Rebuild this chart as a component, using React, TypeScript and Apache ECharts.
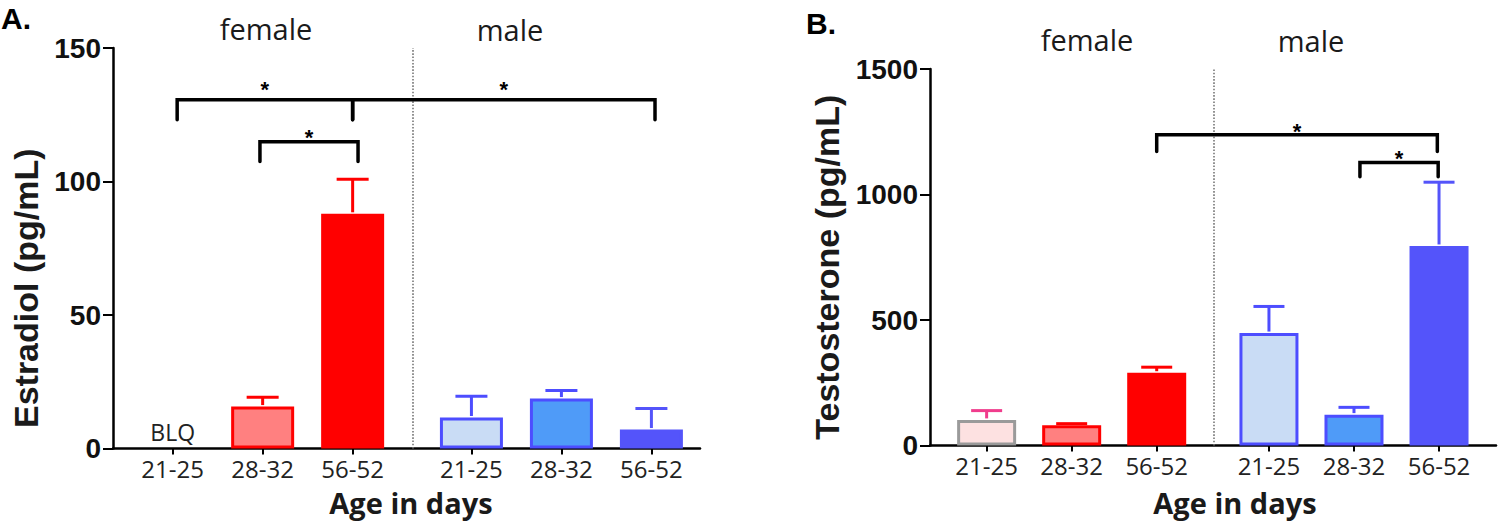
import React, { useEffect, useRef } from "react";
import * as echarts from "echarts";

// ---- data ----
const ageLabels = ["21-25", "28-32", "56-52", "21-25", "28-32", "56-52"];
const xPositions = [0, 1, 2, 3.32, 4.32, 5.32];
const sexDividerX = 2.67;
const sexLabels = ["female", "male"];

const estradiolMean: (number | null)[] = [null, 15.7, 87.9, 11.6, 18.7, 7.1];
const estradiolUpper: (number | null)[] = [null, 19.2, 100.8, 19.6, 21.7, 15.0];
const estradiolTicks = [0, 50, 100, 150];

const testosteroneMean: (number | null)[] = [102, 81, 290, 448, 123, 795];
const testosteroneUpper: (number | null)[] = [139, 87, 312, 554, 152, 1049];
const testosteroneTicks = [0, 500, 1000, 1500];

const fillColors = ["#fde1e1", "#ff8080", "#ff0000", "#c9dcf5", "#4f9bf8", "#5454fa"];
const borderColors = ["#9a9a9a", "#ff0000", "#ff0000", "#4d4dff", "#4d4dff", "#5454fa"];
const errorColors = ["#f03c8c", "#ff0000", "#ff0000", "#4d4dff", "#4d4dff", "#5454fa"];

// significance brackets: [x from, x to, bracket y, leg end y, star y]
const estradiolBrackets = [
  [0.05, 2, 130.6, 123.1, 136.5],
  [2, 5.36, 130.6, 123.1, 136.5],
  [0.97, 2.06, 114.9, 107.5, 118.5],
];
const testosteroneBrackets = [
  [2, 5.3, 1238, 1171, 1270],
  [4.39, 5.31, 1127, 1071, 1165],
];
const sigMark = "*";
const blqText = "BLQ";

const TEXT = "#1a1a1a";

function labelFor(v: number) {
  for (let i = 0; i < xPositions.length; i++) {
    if (Math.abs(xPositions[i] - v) < 1e-6) return ageLabels[i];
  }
  return "";
}

function makeAxes(idx: number, xmin: number, xmax: number, ticks: number[], yname: string, namePadX: number, xNameGap: number, yNameGap: number, yNamePad: number[]) {
  const ymax = ticks[ticks.length - 1];
  const xAxis = {
    type: "value",
    gridIndex: idx,
    min: xmin,
    max: xmax,
    name: "Age in days",
    nameLocation: "middle",
    nameGap: xNameGap,
    nameTextStyle: {
      fontFamily: "Open Sans",
      fontWeight: "bold",
      fontSize: 29,
      lineHeight: 26,
      color: TEXT,
      padding: [0, 0, 0, namePadX],
    },
    axisLine: { show: true, onZero: false, lineStyle: { color: "#000", width: 2.5 } },
    axisTick: { show: true, customValues: xPositions, length: 6, lineStyle: { color: "#000", width: 2 } },
    axisLabel: {
      show: true,
      customValues: xPositions,
      formatter: (v: number) => labelFor(v),
      fontFamily: "Open Sans",
      fontSize: 24,
      lineHeight: 20,
      color: "#222",
      margin: 10,
    },
    splitLine: { show: false },
  };
  const yAxis = {
    type: "value",
    gridIndex: idx,
    min: 0,
    max: ymax,
    interval: ticks[1] - ticks[0],
    name: yname,
    nameLocation: "middle",
    nameRotate: 90,
    nameGap: yNameGap,
    nameTextStyle: {
      fontFamily: "Liberation Sans",
      fontWeight: "bold",
      fontSize: 34,
      color: TEXT,
      padding: yNamePad,
    },
    axisLine: { show: true, onZero: false, lineStyle: { color: "#000", width: 2.5 } },
    axisTick: { show: true, length: 10, lineStyle: { color: "#000", width: 2 } },
    axisLabel: {
      fontFamily: "Liberation Sans",
      fontWeight: "bold",
      fontSize: 28,
      color: "#111",
      margin: 12,
      formatter: (v: number) => String(v),
    },
    splitLine: { show: false },
  };
  return { xAxis, yAxis };
}

function barSeries(idx: number, mean: (number | null)[], barWidth: number) {
  const data: any[] = [];
  xPositions.forEach((x, i) => {
    if (mean[i] == null) return;
    data.push({
      value: [x, mean[i]],
      itemStyle: { color: fillColors[i], borderColor: borderColors[i], borderWidth: 3 },
    });
  });
  return {
    type: "bar",
    xAxisIndex: idx,
    yAxisIndex: idx,
    barWidth,
    data,
    z: 3,
    markLine: {
      silent: true,
      symbol: "none",
      label: { show: false },
      lineStyle: { type: "dotted", color: "#777", width: 1.6 },
      data: [{ xAxis: sexDividerX }],
    },
  };
}

function errorSeries(idx: number, mean: (number | null)[], upper: (number | null)[], capHalf: number) {
  return {
    type: "custom",
    xAxisIndex: idx,
    yAxisIndex: idx,
    z: 4,
    data: xPositions.map((x, i) => [x, i]),
    renderItem: (params: any, api: any) => {
      const i = params.dataIndex;
      const x = xPositions[i];
      const m = mean[i];
      const u = upper[i];
      if (m == null || u == null) {
        const p = api.coord([x, 0]);
        return {
          type: "text",
          x: p[0],
          y: p[1] - 17,
          style: {
            text: blqText,
            fontFamily: "Open Sans",
            fontSize: 23,
            fill: "#222",
            align: "center",
            verticalAlign: "middle",
          },
        };
      }
      const pm = api.coord([x, m]);
      const pu = api.coord([x, u]);
      const st = { stroke: errorColors[i], lineWidth: 3 };
      return {
        type: "group",
        children: [
          { type: "line", shape: { x1: pm[0], y1: pm[1] - 1.5, x2: pu[0], y2: pu[1] }, style: st },
          { type: "line", shape: { x1: pu[0] - capHalf, y1: pu[1], x2: pu[0] + capHalf, y2: pu[1] }, style: st },
        ],
      };
    },
  };
}

function bracketSeries(idx: number, brackets: number[][]) {
  return {
    type: "custom",
    xAxisIndex: idx,
    yAxisIndex: idx,
    z: 5,
    data: brackets,
    renderItem: (params: any, api: any) => {
      const b = brackets[params.dataIndex];
      const a1 = api.coord([b[0], b[3]]);
      const t1 = api.coord([b[0], b[2]]);
      const t2 = api.coord([b[1], b[2]]);
      const a2 = api.coord([b[1], b[3]]);
      const s = api.coord([(b[0] + b[1]) / 2, b[4]]);
      return {
        type: "group",
        children: [
          {
            type: "polyline",
            shape: { points: [a1, t1, t2, a2] },
            style: { stroke: "#000", lineWidth: 3.5, fill: "none", lineCap: "round", lineJoin: "miter" },
          },
          {
            type: "text",
            x: s[0],
            y: s[1] + 5,
            style: {
              text: sigMark,
              fontFamily: "Liberation Sans",
              fontWeight: "bold",
              fontSize: 22,
              fill: "#000",
              align: "center",
              verticalAlign: "middle",
            },
          },
        ],
      };
    },
  };
}

function groupText(x: number, y: number, text: string) {
  return {
    type: "text",
    x,
    y,
    style: {
      text,
      fontFamily: "Open Sans",
      fontSize: 29,
      fill: TEXT,
      align: "center",
      verticalAlign: "middle",
    },
  };
}

function panelLetter(x: number, y: number, text: string) {
  return {
    type: "text",
    x,
    y,
    style: {
      text,
      fontFamily: "Liberation Sans",
      fontWeight: "bold",
      fontSize: 30,
      fill: "#000",
      align: "left",
      verticalAlign: "middle",
    },
  };
}

export default function App() {
  const ref = useRef<HTMLDivElement>(null);
  useEffect(() => {
    if (!ref.current) return;
    const chart = echarts.init(ref.current, null, { renderer: "svg" });
    const a = makeAxes(0, -0.663, 5.86, estradiolTicks, "Estradiol (pg/mL)", 9, 41, 70, [0, 80, 0, 0]);
    const b = makeAxes(1, -0.666, 5.99, testosteroneTicks, "Testosterone (pg/mL)", 44, 44, 86, [0, 20, 0, 0]);
    chart.setOption({
      animation: false,
      backgroundColor: "#fff",
      grid: [
        { left: 113, top: 48, width: 587, height: 401 },
        { left: 930, top: 69, width: 566, height: 378 },
      ],
      xAxis: [a.xAxis, b.xAxis],
      yAxis: [a.yAxis, b.yAxis],
      series: [
        barSeries(0, estradiolMean, 63),
        errorSeries(0, estradiolMean, estradiolUpper, 16),
        bracketSeries(0, estradiolBrackets),
        barSeries(1, testosteroneMean, 59),
        errorSeries(1, testosteroneMean, testosteroneUpper, 15.5),
        bracketSeries(1, testosteroneBrackets),
      ],
      graphic: [
        panelLetter(1, 18, "A."),
        panelLetter(806, 23, "B."),
        groupText(266, 28, sexLabels[0]),
        groupText(510, 29, sexLabels[1]),
        groupText(1087, 39, sexLabels[0]),
        groupText(1311, 40, sexLabels[1]),
      ],
    });
    return () => chart.dispose();
  }, []);
  return (
    <div
      ref={ref}
      style={{ position: "fixed", left: 0, top: 0, width: 1500, height: 522, background: "#fff" }}
    />
  );
}
